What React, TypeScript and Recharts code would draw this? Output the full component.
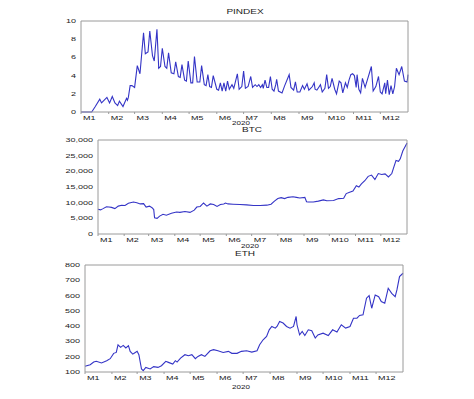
import { LineChart, Line, XAxis, YAxis } from "recharts";

// [day of 2020, value]
const PINDEX: [number, number][] = [
  [0, 0], [12, 0], [16, 0.6], [21, 1.4], [23, 1.0], [26, 1.3], [29, 1.6], [32, 1.0], [35, 1.7], [38, 1.0],
  [41, 0.7], [43, 1.2], [47, 0.6], [51, 1.5], [52, 1.3], [53, 1.6], [55, 2.9], [57, 2.9], [60, 2.7], [63, 5.1],
  [66, 4.2], [70, 8.7], [72, 6.4], [75, 6.6], [77, 8.9], [80, 6.2], [82, 5.6], [85, 9.1], [87, 4.8], [89, 5.0],
  [91, 7.0], [94, 5.0], [96, 4.8], [98, 6.5], [101, 4.3], [104, 4.2], [106, 5.5], [109, 3.9], [111, 3.8], [113, 5.2],
  [116, 3.5], [118, 3.4], [120, 5.6], [123, 3.2], [125, 3.2], [127, 6.1], [130, 3.3], [133, 3.3], [135, 5.1], [138, 3.0],
  [140, 2.9], [142, 4.1], [144, 2.8], [146, 2.7], [148, 4.0], [152, 2.5], [154, 2.4], [156, 3.2], [158, 2.3], [160, 3.2],
  [162, 2.3], [164, 3.4], [166, 2.5], [169, 3.0], [171, 2.6], [175, 4.2], [177, 2.5], [180, 2.8], [182, 4.5], [184, 2.6],
  [187, 2.8], [190, 3.9], [192, 2.7], [195, 3.0], [197, 2.8], [199, 3.0], [201, 2.7], [203, 3.0], [204, 2.6], [206, 3.5],
  [208, 2.7], [210, 2.7], [212, 3.9], [214, 2.5], [216, 2.3], [218, 3.0], [219, 3.6], [221, 2.3], [225, 2.1], [228, 2.9],
  [233, 4.1], [235, 2.7], [238, 2.4], [240, 3.3], [242, 2.2], [245, 2.2], [248, 2.9], [250, 2.5], [253, 3.1], [255, 2.4],
  [257, 2.6], [259, 2.8], [261, 3.2], [262, 2.5], [264, 2.4], [266, 2.7], [268, 3.0], [270, 2.2], [273, 2.6], [275, 4.1],
  [277, 2.6], [279, 2.8], [281, 3.7], [284, 2.5], [286, 2.0], [289, 3.4], [291, 3.2], [293, 2.1], [296, 3.2], [298, 2.7],
  [300, 3.5], [302, 4.1], [304, 4.2], [306, 4.0], [308, 2.7], [309, 4.1], [311, 2.5], [313, 2.1], [315, 3.7], [318, 2.7],
  [325, 5.0], [327, 2.3], [330, 2.8], [333, 3.9], [335, 2.2], [337, 2.0], [340, 3.2], [341, 2.0], [343, 3.5], [345, 1.9],
  [347, 2.9], [349, 2.0], [351, 2.8], [353, 4.8], [356, 4.1], [359, 5.0], [362, 3.4], [365, 3.3], [366, 4.1],
];

const BTC: [number, number][] = [
  [0, 7900], [3, 7700], [6, 8100], [10, 8700], [13, 8600], [16, 8500], [20, 8100], [24, 8900], [28, 9150], [32, 9100],
  [36, 9800], [42, 10200], [46, 10000], [50, 9600], [54, 9700], [57, 8600], [61, 8900], [64, 8400], [66, 7800], [67, 5200],
  [70, 5000], [73, 5700], [77, 6300], [81, 6000], [87, 6600], [93, 7000], [97, 6900], [103, 7200], [109, 6900], [114, 7600],
  [117, 8600], [121, 8800], [125, 9900], [129, 8900], [133, 9600], [137, 9400], [141, 8800], [145, 9400], [149, 9600], [151, 9900],
  [154, 9600], [160, 9500], [168, 9400], [176, 9300], [184, 9100], [192, 9100], [200, 9200], [205, 9500], [209, 10500], [213, 11300],
  [217, 11600], [221, 11300], [225, 11700], [231, 11900], [235, 11700], [239, 11500], [245, 11700], [247, 10300], [249, 10200], [255, 10200],
  [261, 10500], [267, 10900], [271, 10600], [279, 10700], [285, 11300], [291, 11400], [294, 12900], [298, 13300], [302, 13700], [306, 15400],
  [309, 15000], [312, 16000], [316, 17000], [320, 18400], [324, 18800], [328, 17400], [332, 19300], [336, 19000], [340, 19200], [344, 18200],
  [348, 19300], [350, 21000], [353, 23500], [356, 23200], [358, 24000], [361, 26500], [364, 28000], [366, 29000],
];

const ETH: [number, number][] = [
  [0, 137], [6, 148], [10, 165], [13, 170], [19, 159], [25, 174], [29, 187], [33, 222], [36, 228], [38, 278],
  [41, 261], [44, 274], [47, 257], [50, 272], [52, 235], [55, 217], [57, 224], [60, 235], [62, 213], [65, 120],
  [67, 109], [70, 130], [75, 120], [79, 135], [84, 130], [88, 141], [93, 170], [96, 163], [101, 152], [104, 174],
  [106, 165], [110, 191], [115, 213], [119, 206], [123, 213], [127, 187], [130, 202], [134, 213], [138, 202], [144, 239],
  [148, 246], [153, 239], [159, 228], [165, 235], [169, 222], [175, 222], [180, 235], [186, 239], [192, 230], [198, 239],
  [201, 278], [205, 311], [209, 333], [212, 376], [215, 398], [219, 387], [221, 398], [224, 430], [228, 420], [232, 398],
  [236, 387], [240, 398], [243, 463], [244, 409], [247, 343], [250, 365], [253, 339], [257, 376], [261, 370], [265, 322],
  [268, 343], [274, 354], [280, 339], [285, 376], [290, 361], [295, 409], [300, 387], [305, 398], [309, 452], [313, 452],
  [316, 470], [320, 474], [324, 583], [327, 600], [330, 517], [334, 604], [338, 593], [341, 561], [345, 550], [349, 648],
  [353, 615], [357, 593], [359, 637], [362, 724], [366, 746],
];

const MONTH_STARTS = [0, 31, 60, 91, 121, 152, 182, 213, 244, 274, 305, 335];
const PINDEX_TICKS = [0, 2, 4, 6, 8, 10];
const BTC_TICKS = [0, 5000, 10000, 15000, 20000, 25000, 30000];
const ETH_TICKS = [100, 200, 300, 400, 500, 600, 700, 800];

const LINE = "#3434c6";
const FRAME = "#9a9a9a";
const TEXT = "#222";
const SQUASH = 0.65; // text in the source picture is flattened vertically

function MonthTick({ x, y, payload }: any) {
  const i = MONTH_STARTS.indexOf(payload.value);
  return (
    <g transform={`translate(${x + 2},${y + 3.5}) scale(1,${SQUASH})`}>
      <text x={0} y={0} dy="0.35em" fontSize={9} fill={TEXT} textAnchor="start">
        {`M${i + 1}`}
      </text>
    </g>
  );
}

function ValueTick({ x, y, payload, fmt }: any) {
  const label = fmt ? fmt(payload.value) : String(payload.value);
  return (
    <g transform={`translate(${x},${y}) scale(1,${SQUASH})`}>
      <text x={0} y={0} dy="0.35em" fontSize={9} fill={TEXT} textAnchor="end">
        {label}
      </text>
    </g>
  );
}

function Caption({ text, cx, cy, size }: { text: string; cx: number; cy: number; size: number }) {
  return (
    <div
      style={{
        position: "absolute",
        left: cx - 50,
        top: cy - size / 2,
        width: 100,
        height: size,
        lineHeight: `${size}px`,
        textAlign: "center",
        fontSize: size,
        color: TEXT,
        transform: `scaleY(${SQUASH})`,
      }}
    >
      {text}
    </div>
  );
}

interface PanelProps {
  rows: [number, number][];
  top: number;
  height: number;
  margin: { top: number; right: number; bottom: number; left: number };
  domain: [number, number];
  ticks: number[];
  fmt?: (v: number) => string;
}

function Panel({ rows, top, height, margin, domain, ticks, fmt }: PanelProps) {
  const data = rows.map(([day, value]) => ({ day, value }));
  return (
    <div style={{ position: "absolute", left: 0, top }}>
      <LineChart width={474} height={height} data={data} margin={margin}>
        <XAxis
          dataKey="day"
          type="number"
          domain={[0, 366]}
          ticks={MONTH_STARTS}
          tick={<MonthTick />}
          tickLine={{ stroke: FRAME }}
          tickSize={2}
          tickMargin={0}
          height={20}
          axisLine={{ stroke: FRAME }}
          interval={0}
        />
        <XAxis
          xAxisId="top"
          dataKey="day"
          orientation="top"
          type="number"
          domain={[0, 366]}
          ticks={[]}
          tick={false}
          tickLine={false}
          height={1}
          axisLine={{ stroke: FRAME }}
        />
        <YAxis
          type="number"
          domain={domain}
          ticks={ticks}
          tick={<ValueTick fmt={fmt} />}
          tickLine={false}
          tickSize={0}
          tickMargin={5}
          width={40}
          axisLine={{ stroke: FRAME }}
          interval={0}
        />
        <YAxis
          yAxisId="right"
          dataKey="value"
          orientation="right"
          type="number"
          domain={domain}
          ticks={[]}
          tick={false}
          tickLine={false}
          width={1}
          axisLine={{ stroke: FRAME }}
        />
        <Line
          type="linear"
          dataKey="value"
          stroke={LINE}
          strokeWidth={1.1}
          dot={false}
          isAnimationActive={false}
        />
      </LineChart>
    </div>
  );
}

export default function App() {
  return (
    <div
      style={{
        position: "absolute",
        left: 0,
        top: 0,
        width: 474,
        height: 399,
        background: "#fff",
        fontFamily: "'Liberation Sans', Arial, sans-serif",
      }}
    >
      <Panel
        rows={PINDEX}
        top={0}
        height={135}
        margin={{ top: 20, right: 65, bottom: 3, left: 41 }}
        domain={[0, 10]}
        ticks={PINDEX_TICKS}
      />
      <Panel
        rows={BTC}
        top={135}
        height={125}
        margin={{ top: 4, right: 66, bottom: 6, left: 58 }}
        domain={[0, 30000]}
        ticks={BTC_TICKS}
        fmt={(v: number) => v.toLocaleString("en-US")}
      />
      <Panel
        rows={ETH}
        top={260}
        height={139}
        margin={{ top: 4, right: 70, bottom: 7, left: 45 }}
        domain={[100, 800]}
        ticks={ETH_TICKS}
      />
      <Caption text="PINDEX" cx={245} cy={11.7} size={10} />
      <Caption text="2020" cx={241} cy={124} size={8} />
      <Caption text="BTC" cx={252} cy={129.7} size={10} />
      <Caption text="2020" cx={250} cy={246.7} size={8} />
      <Caption text="ETH" cx={245} cy={253.7} size={10} />
      <Caption text="2020" cx={241} cy={387.7} size={8} />
    </div>
  );
}
